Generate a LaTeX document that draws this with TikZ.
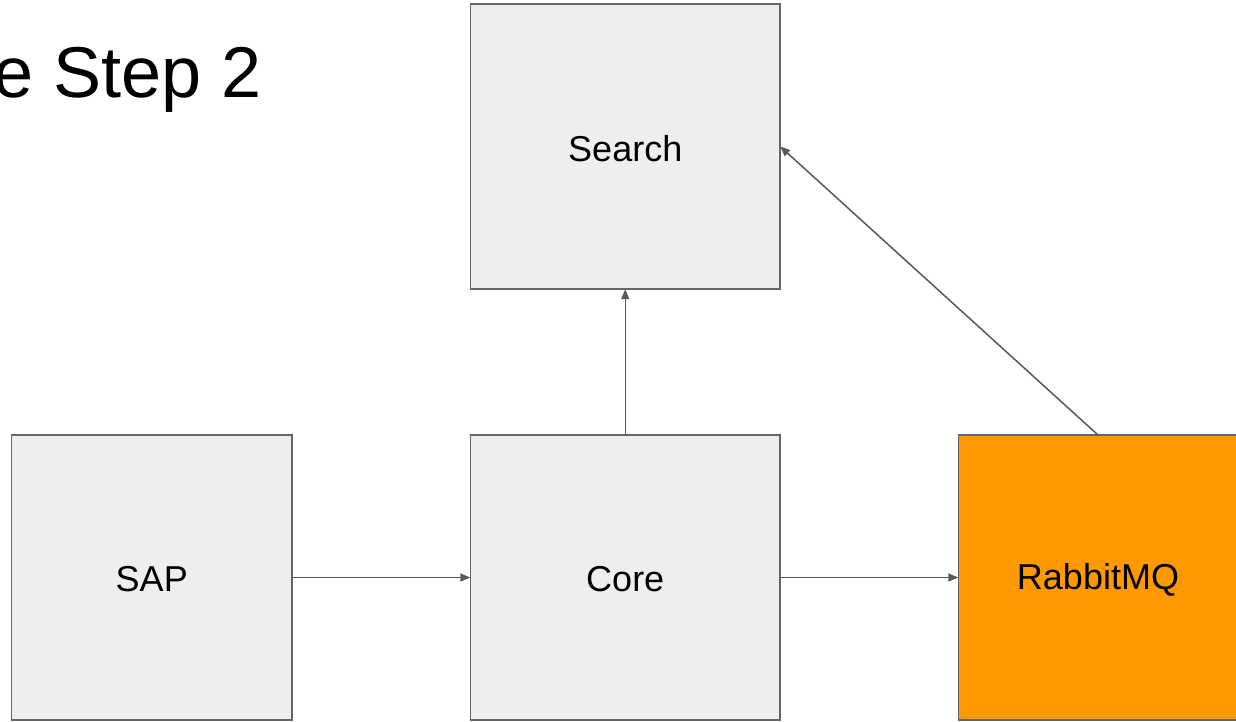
\documentclass[tikz,border=0pt]{standalone}
\usepackage{fontspec}
\setmainfont{Liberation Sans}
\usetikzlibrary{arrows.meta}
\definecolor{boxgray}{HTML}{EEEEEE}
\definecolor{edgegray}{HTML}{666666}
\definecolor{linegray}{HTML}{595959}
\definecolor{rabbit}{HTML}{FF9900}
\tikzset{
  box/.style={draw=edgegray, line width=1.8pt, fill=boxgray},
  label/.style={font=\fontsize{36}{40}\selectfont},
  conn/.style={draw=linegray, line width=1.5pt, -{Triangle[length=10pt,width=8pt]}},
}
\begin{document}
\begin{tikzpicture}[x=1pt,y=-1pt]
\useasboundingbox (0,0) rectangle (1236,721);
\fill[white] (0,0) rectangle (1236,721);
% title
\node[anchor=base east, inner sep=0pt, font=\fontsize{72}{80}\selectfont] (title) at (262,97) {e Step 2};
% boxes
\draw[box] (470.5,4) rectangle (780,289);
\node (search) [inner sep=0pt, minimum width=309.5pt, minimum height=285pt] at (625.25,146.5) {};
\node[label] at ([yshift=-2pt]search.center) {Search};

\draw[box] (11.5,435) rectangle (292,720);
\node (sap) [inner sep=0pt, minimum width=280.5pt, minimum height=285pt] at (151.75,577.5) {};
\node[label] at ([yshift=-2pt]sap.center) {SAP};

\draw[box] (470.5,435) rectangle (780,720);
\node (core) [inner sep=0pt, minimum width=309.5pt, minimum height=285pt] at (625.25,577.5) {};
\node[label] at ([yshift=-2pt]core.center) {Core};

\draw[box, fill=rabbit] (958.5,435) rectangle (1250,720);
\node (rabbitmq) [inner sep=0pt, minimum width=291.5pt, minimum height=285pt] at (1104.25,577.5) {};
\node[label] at (1098,579.5) {RabbitMQ};
\coordinate (rtop) at (1098,435);
% connectors
\draw[conn] (sap.east) -- (core.west);
\draw[conn] (core.east) -- (rabbitmq.west);
\draw[conn] (core.north) -- (search.south);
\draw[conn] (rtop) -- (search.east);
\end{tikzpicture}
\end{document}
